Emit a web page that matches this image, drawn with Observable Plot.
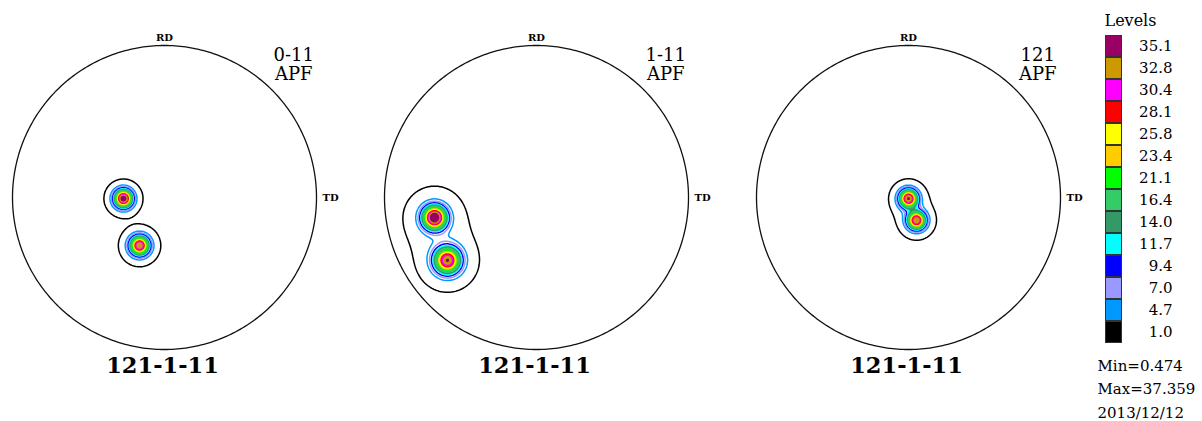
<!DOCTYPE html>
<html><head><meta charset="utf-8">
<script src="https://cdn.jsdelivr.net/npm/d3@7"></script>
<script src="https://cdn.jsdelivr.net/npm/@observablehq/plot@0.6"></script>
<style>
body{margin:0;background:#fff;}
#wrap{position:relative;width:1202px;height:421px;overflow:hidden;background:#fff;}
g[aria-label="sample"] text{letter-spacing:0.5px}
g[aria-label="dir"] text{letter-spacing:1.5px}
</style></head><body><div id="wrap"></div>
<script>
// Legend levels (top to bottom) and their colours
const levels = [35.1, 32.8, 30.4, 28.1, 25.8, 23.4, 21.1, 16.4, 14.0, 11.7, 9.4, 7.0, 4.7, 1.0];
const levelColors = ["#990066", "#CC9900", "#FF00FF", "#FF0000", "#FFFF00", "#FFCC00", "#00FF00",
                     "#33CC66", "#339966", "#00FFFF", "#0000FF", "#9999FF", "#0099FF", "#000000"];
// Panels
const panelNames = ["0-11", "1-11", "121"];
const panelSub = "APF";
const sampleLabel = "121-1-11";
const rdLabel = "RD";
const tdLabel = "TD";
// Intensity peaks (unit pole-figure coordinates, y up)
const peakPanel = [0, 0, 1, 1, 2, 2];
const peakX     = [-0.27, -0.164, -0.671, -0.586, 0.0, 0.053];
const peakY     = [-0.007, -0.316, -0.132, -0.414, -0.007, -0.151];
const peakAmp   = [33.5, 31, 35.6, 31.5, 31, 30.5];
const peakWidth = [0.040, 0.043, 0.053, 0.059, 0.040, 0.040];
const haloAmp   = [4, 4, 3.6, 3.6, 4, 4];
const haloWidth = [0.072, 0.079, 0.128, 0.128, 0.074, 0.074];
// Legend footer
const minValue = "0.474";
const maxValue = "37.359";
const dateStamp = "2013/12/12";

const wrap = document.getElementById("wrap");
const serif = "'DejaVu Serif', serif";
const filledLevels = levels.filter(v => v >= 11.7).reverse();

function density(p) {
  const idx = peakPanel.map((q, i) => q === p ? i : -1).filter(i => i >= 0);
  return (x, y) => {
    let v = 0;
    for (const i of idx) {
      const r2 = (x - peakX[i]) ** 2 + (y - peakY[i]) ** 2;
      v += peakAmp[i] * Math.exp(-r2 / (2 * peakWidth[i] ** 2))
         + haloAmp[i] * Math.exp(-r2 / (2 * haloWidth[i] ** 2));
    }
    return v;
  };
}
const boundary = d3.range(0, 361, 1).map(a => [Math.cos(a * Math.PI / 180), Math.sin(a * Math.PI / 180)]);

panelNames.forEach((name, p) => {
  const chart = Plot.plot({
    width: 372, height: 400,
    marginLeft: 0, marginRight: 0, marginTop: 0, marginBottom: 0,
    style: {fontFamily: serif, background: "white", color: "black"},
    x: {domain: [-1, 1], range: [12, 316], axis: null},
    y: {domain: [-1, 1], range: [349, 45], axis: null},
    color: {type: "ordinal", domain: levels, range: levelColors},
    marks: [
      Plot.contour({value: density(p), x1: -1, x2: 1, y1: -1, y2: 1,
        thresholds: filledLevels, fill: "value", stroke: "none", pixelSize: 1}),
      Plot.contour({value: density(p), x1: -1, x2: 1, y1: -1, y2: 1,
        thresholds: levels.slice().reverse(), stroke: "value", fill: "none",
        strokeWidth: 1.5, pixelSize: 1}),
      Plot.line(boundary, {x: d => d[0], y: d => d[1], stroke: "#111", strokeWidth: 1.3}),
      Plot.text([rdLabel], {x: 0, y: 1, dy: -8, text: d => d, fontSize: 10, fontWeight: "bold", ariaLabel: "dir"}),
      Plot.text([tdLabel], {x: 1, y: 0, dx: 6, text: d => d, textAnchor: "start", fontSize: 10, fontWeight: "bold", ariaLabel: "dir"}),
      Plot.text([name], {x: 0.85, y: 0.937, text: d => d, fontSize: 18, lineAnchor: "middle"}),
      Plot.text([panelSub], {x: 0.85, y: 0.812, text: d => d, fontSize: 18, lineAnchor: "middle"}),
      Plot.text([sampleLabel], {x: 0, y: -1.11, dx: -2, text: d => d, fontSize: 22.5, fontWeight: "bold", lineAnchor: "middle", ariaLabel: "sample"})
    ]
  });
  chart.style.position = "absolute";
  chart.style.left = (p * 372) + "px";
  chart.style.top = "0px";
  wrap.append(chart);
});

const legend = Plot.plot({
  width: 107, height: 421,
  marginLeft: 0, marginRight: 30, marginTop: 0, marginBottom: 0,
  style: {fontFamily: serif, background: "white", color: "black", fontSize: "15px"},
  x: {type: "band", domain: ["swatch"], range: [10, 27], padding: 0, axis: null},
  y: {type: "band", domain: levels, range: [31.7, 346.7], padding: 0, axis: null},
  color: {type: "ordinal", domain: levels, range: levelColors},
  marks: [
    Plot.cell(levels, {x: () => "swatch", y: d => d, fill: d => d, stroke: "#333", strokeWidth: 1, inset: 0.5}),
    Plot.text(levels, {y: d => d, text: d => d.toFixed(1), frameAnchor: "right", textAnchor: "end", fontSize: 15}),
    Plot.text(["Levels"], {frameAnchor: "top-left", dx: 9, dy: 20, text: d => d, textAnchor: "start", lineAnchor: "middle", fontSize: 16}),
    Plot.text([["Min=" + minValue, "Max=" + maxValue, dateStamp].join("\n")],
      {frameAnchor: "top-left", dx: 2, dy: 354, text: d => d, textAnchor: "start", lineAnchor: "top", lineHeight: 1.55, fontSize: 15})
  ]
});
legend.style.position = "absolute";
legend.style.left = "1095px";
legend.style.top = "0px";
wrap.append(legend);
</script></body></html>
